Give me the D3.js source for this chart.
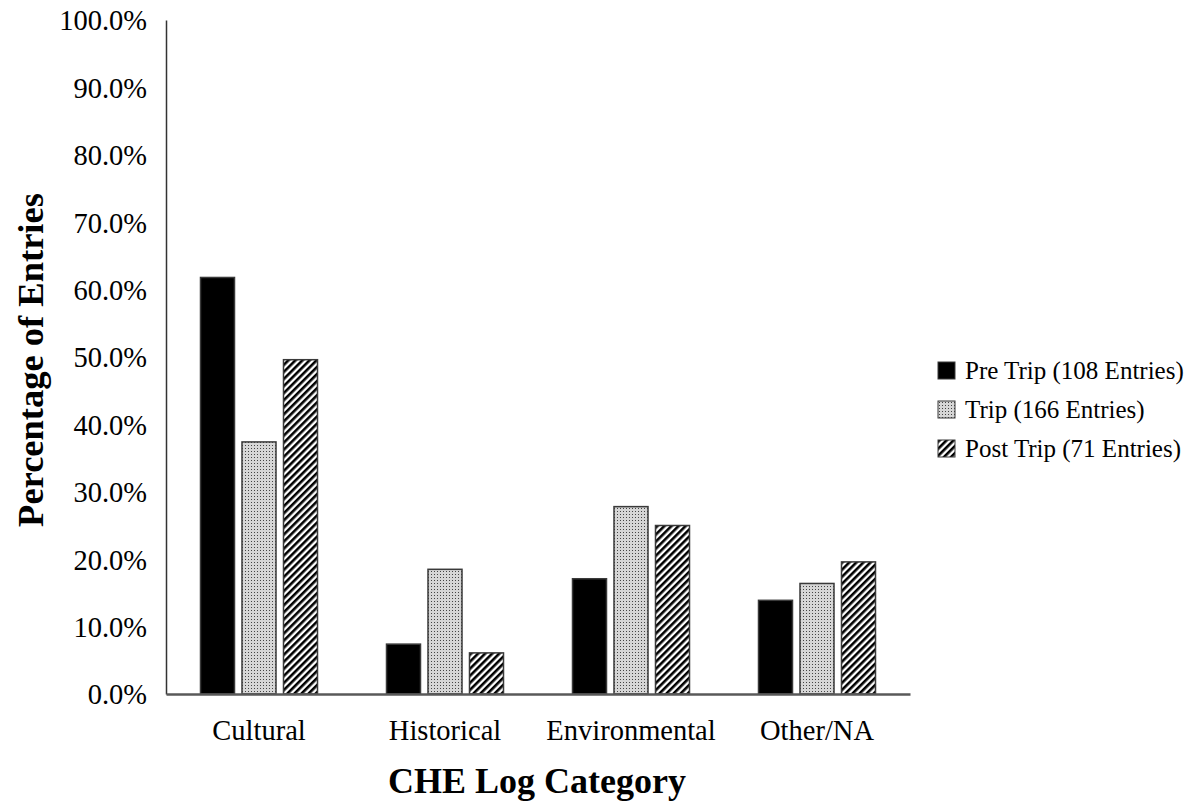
<!DOCTYPE html>
<html>
<head>
<meta charset="utf-8">
<script src="https://cdn.jsdelivr.net/npm/d3@7"></script>
<style>
  html, body { margin: 0; padding: 0; background: #fff; }
  svg { display: block; }
  text { font-family: "Liberation Serif", "Times New Roman", serif; fill: #000; }
</style>
</head>
<body>
<svg id="chart" width="1192" height="803"></svg>
<script>
const categories = ["Cultural", "Historical", "Environmental", "Other/NA"];
const seriesNames = ["Pre Trip (108 Entries)", "Trip (166 Entries)", "Post Trip (71 Entries)"];
const preTrip  = [61.8, 7.4, 17.1, 13.9];
const trip     = [37.4, 18.5, 27.8, 16.4];
const postTrip = [49.6, 6.1, 25.0, 19.6];
const yTicks = [0, 10, 20, 30, 40, 50, 60, 70, 80, 90, 100];
const yTitle = "Percentage of Entries";
const xTitle = "CHE Log Category";

const seriesValues = [preTrip, trip, postTrip];

const svg = d3.select("#chart");
const plotLeft = 166, plotRight = 910, plotTop = 20, plotBottom = 694;

const defs = svg.append("defs");
// dotted pattern
const dot = defs.append("pattern").attr("id", "dots")
  .attr("patternUnits", "userSpaceOnUse").attr("width", 3).attr("height", 3);
dot.append("rect").attr("width", 3).attr("height", 3).attr("fill", "#d6d6d6");
dot.append("rect").attr("x", 1).attr("y", 1).attr("width", 1).attr("height", 1).attr("fill", "#444");
// hatch pattern
const hatch = defs.append("pattern").attr("id", "hatch")
  .attr("patternUnits", "userSpaceOnUse").attr("width", 5).attr("height", 5)
  .attr("patternTransform", "rotate(45)");
hatch.append("rect").attr("width", 5).attr("height", 5).attr("fill", "#fff");
hatch.append("rect").attr("width", 2.6).attr("height", 5).attr("fill", "#000");

const fills = ["#000", "url(#dots)", "url(#hatch)"];

const x0 = d3.scaleBand().domain(categories).range([plotLeft, plotRight]).padding(0);
const groupW = 117;
const x1 = d3.scaleBand().domain(d3.range(seriesNames.length))
  .range([x0.bandwidth() / 2 - groupW / 2, x0.bandwidth() / 2 + groupW / 2])
  .paddingInner(0.1807).paddingOuter(0);
const y = d3.scaleLinear().domain([0, 100]).range([plotBottom, plotTop]);

// bars
const groups = svg.append("g").selectAll("g").data(categories).join("g")
  .attr("transform", d => `translate(${x0(d)},0)`);
groups.selectAll("rect")
  .data((c, ci) => seriesValues.map((vals, si) => ({ si, v: vals[ci] })))
  .join("rect")
  .attr("x", d => x1(d.si))
  .attr("width", x1.bandwidth())
  .attr("y", d => y(d.v))
  .attr("height", d => y(0) - y(d.v))
  .attr("fill", d => fills[d.si])
  .attr("stroke", "#3a3a3a")
  .attr("stroke-width", 1.5);

// y axis
const yAxis = d3.axisLeft(y).tickValues(yTicks).tickSize(0).tickPadding(19)
  .tickFormat(d => d.toFixed(1) + "%");
const gy = svg.append("g").attr("transform", `translate(${plotLeft},0)`).call(yAxis);
gy.select(".domain").attr("stroke", "#333").attr("stroke-width", 1.5);
gy.selectAll("text").style("font-family", '"Liberation Serif", serif')
  .style("font-size", "28.5px").attr("fill", "#000").attr("dy", "0.35em");

// x axis
const xAxis = d3.axisBottom(x0).tickSize(0).tickPadding(26);
const gx = svg.append("g").attr("transform", `translate(0,${plotBottom})`).call(xAxis);
gx.select(".domain").attr("stroke", "#595959").attr("stroke-width", 2.5);
gx.selectAll("text").style("font-family", '"Liberation Serif", serif')
  .style("font-size", "28.5px").attr("fill", "#000");

// titles
svg.append("text")
  .attr("transform", `translate(43,${(plotTop + plotBottom) / 2 + 3}) rotate(-90)`)
  .attr("text-anchor", "middle")
  .style("font-size", "36.5px").style("font-weight", "bold")
  .text(yTitle);
svg.append("text")
  .attr("x", (plotLeft + plotRight) / 2 - 1).attr("y", 793)
  .attr("text-anchor", "middle")
  .style("font-size", "36px").style("font-weight", "bold")
  .text(xTitle);

// legend
const legend = svg.append("g").attr("transform", "translate(938,362)");
const items = legend.selectAll("g").data(seriesNames).join("g")
  .attr("transform", (d, i) => `translate(0,${i * 39})`);
items.append("rect").attr("width", 17).attr("height", 17)
  .attr("fill", (d, i) => fills[i]).attr("stroke", "#3a3a3a").attr("stroke-width", 1);
items.append("text").attr("x", 27).attr("y", 8.5).attr("dy", "0.35em")
  .style("font-size", "25px").text(d => d);
</script>
</body>
</html>
